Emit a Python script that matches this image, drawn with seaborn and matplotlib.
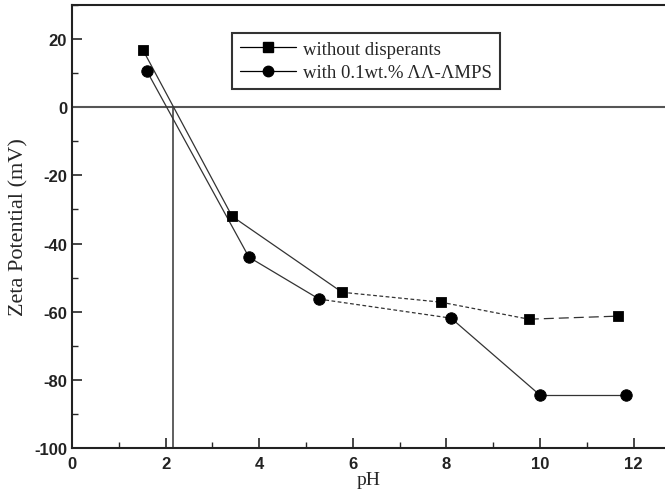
import matplotlib
matplotlib.use("Agg")
import matplotlib.pyplot as plt
import seaborn as sns
import pandas as pd
from matplotlib.ticker import MultipleLocator
from matplotlib.lines import Line2D

sns.set_style("white")
plt.rcParams['font.family'] = ['Liberation Sans', 'DejaVu Sans']
plt.rcParams['axes.unicode_minus'] = False

ph_sq = [1.52, 3.42, 5.77, 7.88, 9.76, 11.67]
zeta_sq = [16.7, -32.0, -54.3, -57.2, -62.2, -61.3]
ph_ci = [1.60, 3.78, 5.28, 8.10, 10.0, 11.84]
zeta_ci = [10.6, -44.0, -56.3, -61.9, -84.5, -84.5]
label_sq = "without disperants"
label_ci = "with 0.1wt.% ΛΛ-ΛMPS"
iep = 2.16
xticks = [0, 2, 4, 6, 8, 10, 12]
yticks = [-100, -80, -60, -40, -20, 0, 20]

# per-segment line styles
sq_styles = ['-', '-', (0, (3, 2)), (0, (3, 2)), (0, (8, 4))]
ci_styles = ['-', '-', (0, (3, 2)), '-', '-']

fig = plt.figure(figsize=(6.65, 5.02), dpi=100)
ax = fig.add_axes([0.1083, 0.1056, 0.8917, 0.8824])

lc = '#333333'
for i, ls in enumerate(sq_styles):
    seg = pd.DataFrame({'x': ph_sq[i:i+2], 'y': zeta_sq[i:i+2]})
    sns.lineplot(data=seg, x='x', y='y', ax=ax, color=lc, lw=0.9,
                 linestyle=ls, sort=False, legend=False)
for i, ls in enumerate(ci_styles):
    seg = pd.DataFrame({'x': ph_ci[i:i+2], 'y': zeta_ci[i:i+2]})
    sns.lineplot(data=seg, x='x', y='y', ax=ax, color=lc, lw=0.9,
                 linestyle=ls, sort=False, legend=False)

df_sq = pd.DataFrame({'x': ph_sq, 'y': zeta_sq})
df_ci = pd.DataFrame({'x': ph_ci, 'y': zeta_ci})
sns.scatterplot(data=df_sq, x='x', y='y', ax=ax, marker='s', s=52,
                color='black', edgecolor='black', zorder=5)
sns.scatterplot(data=df_ci, x='x', y='y', ax=ax, marker='o', s=68,
                color='black', edgecolor='black', zorder=5)

ax.axhline(0, color='#555555', lw=1.5, zorder=1)
ax.plot([iep, iep], [-100, 0], color='#444444', lw=1.2, zorder=1)

ax.set_xlim(0, 12.67)
ax.set_ylim(-100, 30)
ax.set_xticks(xticks)
ax.set_yticks(yticks)
ax.xaxis.set_minor_locator(MultipleLocator(1))
ax.yaxis.set_minor_locator(MultipleLocator(10))
ax.tick_params(which='major', direction='in', length=7, width=1.2,
               labelsize=12, bottom=True, left=True, top=False, right=False)
ax.tick_params(axis='x', which='major', pad=6)
ax.tick_params(which='minor', direction='in', length=4, width=1.0,
               bottom=True, left=True, top=False, right=False)
for lab in ax.get_xticklabels() + ax.get_yticklabels():
    lab.set_fontweight('bold')
    lab.set_color('#222222')

for s in ['left', 'bottom', 'top']:
    ax.spines[s].set_linewidth(1.5)
    ax.spines[s].set_color('#222222')
ax.spines['right'].set_visible(False)

ax.set_xlabel('pH', fontsize=14, family=['Liberation Serif'], labelpad=0)
ax.set_ylabel('Zeta Potential (mV)', fontsize=16, family=['Liberation Serif'], labelpad=4)

handles = [Line2D([], [], color='black', lw=0.9, marker='s', markersize=6.5),
           Line2D([], [], color='black', lw=0.9, marker='o', markersize=7.5)]
leg = ax.legend(handles, [label_sq, label_ci], loc='upper left',
                bbox_to_anchor=(0.27, 0.937), frameon=True, fancybox=False,
                edgecolor='black', handlelength=3.0, handletextpad=0.4,
                borderpad=0.4, labelspacing=0.35, borderaxespad=0,
                prop={'family': ['Liberation Serif', 'DejaVu Serif'], 'size': 13.5})
leg.get_frame().set_linewidth(1.5)

fig.savefig('out.png', dpi=100)
